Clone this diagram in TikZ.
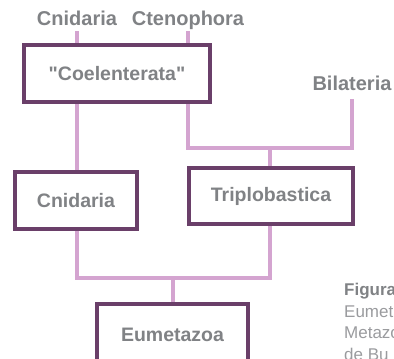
\documentclass[tikz,border=0pt]{standalone}
\usepackage{fontspec}
\setmainfont{Liberation Sans}[Ligatures=TeXOff]
\usetikzlibrary{backgrounds}
\definecolor{clink}{HTML}{D4A4D0}
\definecolor{cbox}{HTML}{6A3F69}
\definecolor{cink}{HTML}{808285}
\definecolor{ccap}{HTML}{9A9B9E}
\tikzset{
  taxbox/.style={
    draw=cbox, fill=white, line width=3.5pt, inner sep=0pt,
    font=\fontsize{19.5}{22}\selectfont\bfseries, text=cink},
  taxlabel/.style={
    font=\fontsize{20}{22}\selectfont\bfseries, text=cink,
    text height=14pt, text depth=0pt, inner xsep=0pt, inner ysep=6pt},
  link/.style={draw=clink, line width=4pt},
  capline/.style={anchor=base west, font=\fontsize{17}{20}\selectfont,
    text=ccap, inner sep=0pt},
}

\begin{document}
\begin{tikzpicture}[x=1pt, y=-1pt]

\useasboundingbox (0,0) rectangle (394,359);
\clip (0,0) rectangle (394,359);

% Leaf labels.
\node[taxlabel] (topcnid) at (77,18) {Cnidaria};
\node[taxlabel] (topcteno) at (188,18) {Ctenophora};
\node[taxlabel, inner ysep=8pt] (bila) at (352,83.5) {Bilateria};

% Clade boxes.
\node[taxbox, minimum width=186pt, minimum height=57pt] (coel)
  at (117,73.5) {"Coelenterata"};
\node[taxbox, minimum width=122pt, minimum height=57pt] (cnid)
  at (76,200.5) {Cnidaria};
\node[taxbox, minimum width=164pt, minimum height=56pt] (trip)
  at (271,196) {Triplobastica};
\node[taxbox, minimum width=151pt, minimum height=62pt] (eume)
  at (172.5,335) {Eumetazoa};

% Junctions.
\coordinate (jright) at (270,148);
\coordinate (jlow) at (173,278);

% Branches.
\begin{scope}[on background layer]
\draw[link] (topcnid.south) -- (topcnid.south |- coel.north);
\draw[link] (topcteno.south) -- (topcteno.south |- coel.north);
\draw[link] (topcnid |- coel.south) -- (topcnid |- cnid.north);
\draw[link] (topcteno |- coel.south) |- (jright) -| (bila.south);
\draw[link] (jright) -- (jright |- trip.north);
\draw[link] (topcnid |- cnid.south) |- (jlow) -| (jright |- trip.south);
\draw[link] (jlow) -- (jlow |- eume.north);
\end{scope}

% Caption, cut by the page edge.
\node[capline, font=\fontsize{17}{20}\selectfont\bfseries, text=cink]
  (capa) at (344,295) {Figura};
\node[capline] (capb) at (344,317) {Eumetazoa};
\node[capline] (capc) at (344,338.5) {Metazoa};
\node[capline] (capd) at (344,360) {de Bu};

\end{tikzpicture}
\end{document}
